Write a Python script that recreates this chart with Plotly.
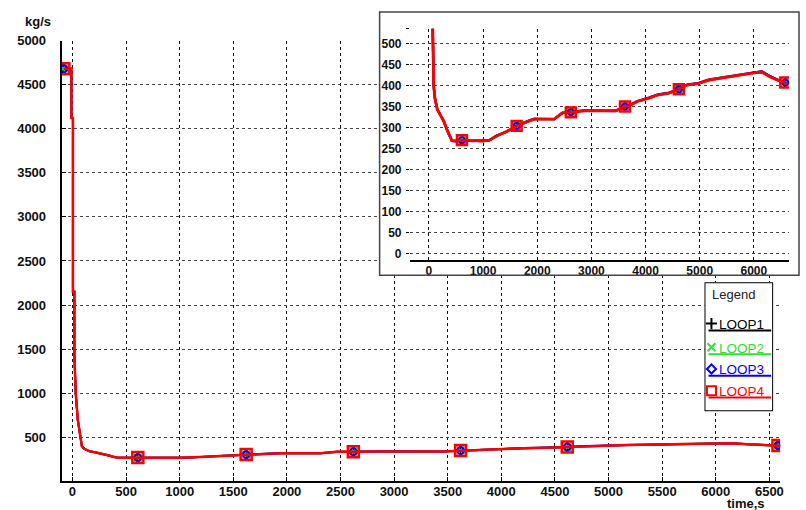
import plotly.graph_objects as go

# ---- data: coolant mass flow per loop ----
time_s = [-80, -10, -10, 5, 5, 18, 18, 25, 31, 50,
          75, 88, 110, 135, 155, 210, 276, 331, 380, 424,
          500, 610, 800, 1000, 1117, 1250, 1423, 1620, 1700, 1853,
          1945, 2313, 2400, 2466, 2620, 2866, 3448, 3620, 3700, 3847,
          4062, 4215, 4430, 4615, 4767, 4982, 5166, 5443, 5718, 5995,
          6148, 6300, 6450, 6580, 6620]

loop4 = [4680, 4680, 4120, 4120, 2150, 2150, 1450, 1250, 1000, 700,
         500, 400, 370, 355, 343, 330, 315, 296, 280, 269,
         268, 270, 269, 268, 270, 280, 290, 304, 308, 316,
         320, 320, 328, 335, 336, 340, 340, 350, 352, 362,
         370, 377, 382, 391, 401, 405, 413, 419, 424, 430,
         432, 420, 412, 407, 403]

loop3 = [4680, 4680, 4120, 4120, 2150, 2150, 1450, 1250, 1000, 700,
         500, 400, 370, 355, 343, 331, 314, 295, 280, 268,
         267, 270, 268, 269, 270, 281, 289, 304, 309, 317,
         321, 320, 329, 335, 337, 341, 339, 350, 353, 363,
         371, 378, 383, 391, 402, 406, 414, 420, 425, 432,
         434, 422, 413, 407, 404]

loop2 = [4680, 4680, 4120, 4120, 2150, 2150, 1450, 1250, 1000, 700,
         500, 400, 370, 355, 343, 330, 316, 296, 281, 270,
         268, 270, 269, 269, 270, 281, 290, 304, 308, 316,
         320, 320, 328, 335, 336, 340, 340, 350, 352, 362,
         370, 377, 382, 391, 401, 405, 413, 420, 424, 430,
         432, 422, 412, 407, 403]

loop1 = [4680, 4680, 4120, 4120, 2150, 2150, 1450, 1250, 1000, 700,
         500, 400, 370, 355, 343, 330, 315, 296, 280, 269,
         268, 270, 269, 268, 270, 280, 290, 304, 308, 316,
         320, 320, 328, 335, 336, 340, 340, 350, 352, 362,
         370, 377, 382, 391, 401, 405, 413, 419, 424, 430,
         432, 421, 412, 407, 403]

marker_times = [-80, 610, 1620, 2620, 3620, 4615, 6580]

main_xticks = [0, 500, 1000, 1500, 2000, 2500, 3000, 3500, 4000, 4500, 5000, 5500, 6000, 6500]
main_yticks = [500, 1000, 1500, 2000, 2500, 3000, 3500, 4000, 4500, 5000]
inset_xticks = [0, 1000, 2000, 3000, 4000, 5000, 6000]
inset_yticks = [0, 50, 100, 150, 200, 250, 300, 350, 400, 450, 500]

loops = [
    ("LOOP1", loop1, "#000000", "cross-thin", 8, 1.5, 2.0),
    ("LOOP2", loop2, "#33dd33", "x-thin", 8, 2.0, 2.0),
    ("LOOP3", loop3, "#0000ff", "diamond-open", 7, 2.0, 2.0),
    ("LOOP4", loop4, "#ff0000", "square-open", 11, 2.5, 2.5),
]

W, H = 806, 510
def px(x):
    return x / W
def py(y):
    return (H - y) / H

def bold(v):
    return "<b>%s</b>" % v

fig = go.Figure()

def add_loops(xa, ya, msize_scale=1.0, width_scale=1.0):
    for name, vals, color, sym, msize, mlw, lw in loops:
        fig.add_trace(go.Scatter(
            x=time_s, y=vals, mode="lines", xaxis=xa, yaxis=ya,
            line=dict(color=color, width=lw * width_scale), showlegend=False, hoverinfo="skip"))
        mk_y = [vals[time_s.index(t)] for t in marker_times]
        fig.add_trace(go.Scatter(
            x=marker_times, y=mk_y, mode="markers", xaxis=xa, yaxis=ya,
            marker=dict(symbol=sym, size=msize * msize_scale, color=color,
                        line=dict(color=color, width=mlw)),
            showlegend=False, hoverinfo="skip"))

# main plot
add_loops("x", "y")
# white frame behind the inset
fig.add_trace(go.Scatter(x=[], y=[], xaxis="x2", yaxis="y2", showlegend=False))
# zoomed inset
add_loops("x3", "y3", 0.9, 1.15)
# legend glyphs
legend_rows = [321, 345, 367, 389]
for (name, vals, color, sym, msize, mlw, lw), yy in zip(loops, legend_rows):
    fig.add_trace(go.Scatter(
        x=[715], y=[yy], mode="markers", xaxis="x4", yaxis="y4",
        marker=dict(symbol=sym, size=min(msize, 9), color=color,
                    line=dict(color=color, width=2)),
        showlegend=False, hoverinfo="skip"))

FONT = "Liberation Sans, Arial"
tickfont_main = dict(family=FONT, size=13, color="#111")
tickfont_inset = dict(family=FONT, size=12, color="#111")
grid_common = dict(showgrid=True, gridwidth=1, griddash="3px,3px", zeroline=False)

fig.update_layout(
    width=W, height=H,
    margin=dict(l=0, r=0, t=0, b=0),
    paper_bgcolor="white", plot_bgcolor="white",
    showlegend=False,
    xaxis=dict(domain=[px(62), px(784)], range=[-100, 6600], anchor="y",
               tickmode="array", tickvals=main_xticks + [6600],
               ticktext=[bold(v) for v in main_xticks] + [""],
               showline=True, linecolor="black", linewidth=2,
               ticks="inside", ticklen=4, tickcolor="black",
               ticklabelstandoff=-3,
               gridcolor="#111", tickfont=tickfont_main, **grid_common),
    yaxis=dict(domain=[py(481), py(34)], range=[0, 5000], anchor="x",
               tickmode="array", tickvals=main_yticks,
               ticktext=[bold(v) for v in main_yticks],
               showline=True, linecolor="black", linewidth=2,
               ticks="inside", ticklen=4, tickcolor="black",
               ticklabelstandoff=11,
               gridcolor="#444", tickfont=tickfont_main, **grid_common),
    xaxis2=dict(domain=[px(381), px(803)], anchor="y2", visible=False, range=[0, 1]),
    yaxis2=dict(domain=[py(272), py(5)], anchor="x2", visible=False, range=[0, 1]),
    xaxis3=dict(domain=[px(412), px(793)], range=[-350, 6650], anchor="y3",
                tickmode="array", tickvals=[-350] + inset_xticks + [6650],
                ticktext=[""] + [bold(v) for v in inset_xticks] + [""],
                showline=True, linecolor="black", linewidth=1.5,
                ticks="inside", ticklen=3, tickcolor="black",
                ticklabelstandoff=-2,
                gridcolor="#111", tickfont=tickfont_inset, **grid_common),
    yaxis3=dict(domain=[py(257), py(22)], range=[-16, 535], anchor="x3",
                tickmode="array", tickvals=inset_yticks + [535],
                ticktext=[bold(v) for v in inset_yticks] + [""],
                showline=False,
                ticks="outside", ticklen=3, tickcolor="black",
                ticklabelstandoff=2,
                gridcolor="#444", tickfont=tickfont_inset, **grid_common),
    xaxis4=dict(domain=[px(708), px(777)], range=[708, 777], anchor="y4", visible=False),
    yaxis4=dict(domain=[py(410), py(279)], range=[410, 279], anchor="x4", visible=False),
)

shapes = []
# inset frame
shapes.append(dict(type="rect", xref="paper", yref="paper",
                   x0=px(381.5), x1=px(803), y0=py(272), y1=py(5),
                   line=dict(color="#444", width=1.5), layer="above"))
# legend box
shapes.append(dict(type="rect", xref="x4", yref="y4",
                   x0=708, x1=777, y0=410, y1=279,
                   line=dict(color="black", width=2), layer="above"))
annotations = [
    dict(text="<b>kg/s</b>", x=px(38), y=py(15), xref="paper", yref="paper",
         xanchor="center", yanchor="middle", showarrow=False,
         font=dict(family=FONT, size=13, color="#111")),
    dict(text="<b>time,s</b>", x=px(750), y=py(503), xref="paper", yref="paper",
         xanchor="center", yanchor="middle", showarrow=False,
         font=dict(family=FONT, size=13, color="#111")),
    dict(text="Legend", x=737, y=291, xref="x4", yref="y4", showarrow=False,
         xanchor="center", yanchor="middle",
         font=dict(family=FONT, size=13, color="#222")),
]
for (name, vals, color, sym, msize, mlw, lw), yy in zip(loops, legend_rows):
    shapes.append(dict(type="line", xref="x4", yref="y4",
                       x0=712, x1=775, y0=yy + 7, y1=yy + 7,
                       line=dict(color=color, width=2), layer="above"))
    annotations.append(dict(text=name, x=721, y=yy + 1, xref="x4", yref="y4",
                            xanchor="left", yanchor="middle", showarrow=False,
                            font=dict(family=FONT, size=13.5, color=color)))

fig.update_layout(shapes=shapes, annotations=annotations)

fig.write_html("out.html")
